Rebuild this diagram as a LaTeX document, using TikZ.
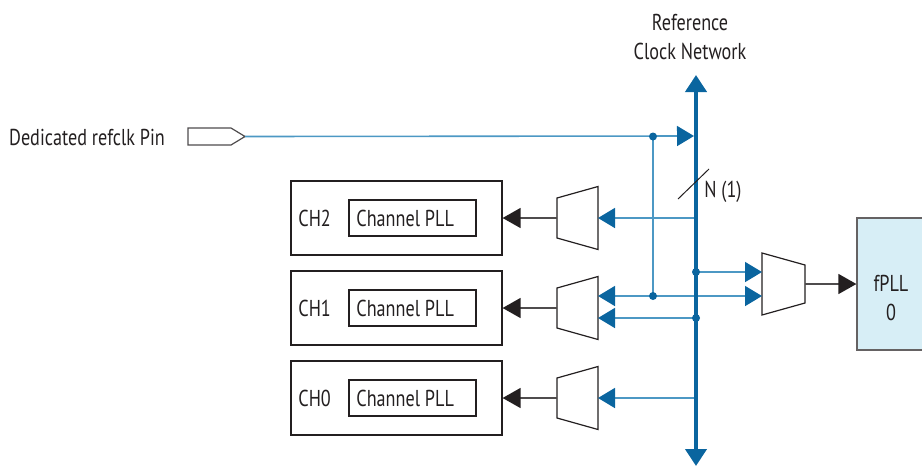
\documentclass[tikz,border=0pt]{standalone}
\usepackage{fontspec}
\setmainfont{PT Sans}[FakeStretch=0.79]
\usetikzlibrary{arrows.meta}
\definecolor{busblue}{HTML}{0A659F}
\definecolor{sigblue}{HTML}{4C98C4}
\definecolor{pllfill}{HTML}{D7EEF6}
\definecolor{ink}{HTML}{231F20}

\begin{document}
\begin{tikzpicture}[x=0.5pt,y=-0.5pt,font=\fontsize{11.5}{14.5}\selectfont,text=ink,
	chbox/.style={draw=ink,line width=0.6pt,minimum width=105.5pt,minimum height=37pt,inner sep=0pt},
	pllbox/.style={draw=ink,line width=0.6pt,minimum width=63.5pt,minimum height=18pt,inner sep=0pt},
	muxshape/.style={draw=ink,line width=0.6pt,fill=white},
	sig/.style={draw=sigblue,line width=0.8pt},
	sigarr/.style={sig,-{Triangle[length=8.5pt,width=10pt,color=busblue]}},
	blkarr/.style={draw=ink!80,line width=0.7pt,-{Triangle[length=9pt,width=10pt,color=ink]}},
	bus/.style={draw=busblue,line width=2pt,{Triangle[length=8.5pt,width=10.5pt]}-{Triangle[length=8.5pt,width=10.5pt]}}]
	\useasboundingbox (0,0) rectangle (922,467);
	% title and clock network
	\node[align=center] (title) at (690,37) {Reference\\Clock Network};
	\coordinate (bustop) at (696,75);
	\coordinate (busbot) at (696,466);
	\coordinate (bpin) at (694,136);
	\coordinate (b2) at (696,218);
	\coordinate (bf1) at (696,272);
	\coordinate (b1b) at (696,318);
	\coordinate (b0) at (696,398);
	% refclk pin
	\node[anchor=east] (pinlbl) at (172,137) {Dedicated refclk Pin};
	\draw[draw=ink!80,line width=0.6pt] (188,128) -- (231,128) -- (245,136.5) -- (231,145) -- (188,145) -- cycle;
	\coordinate (pintip) at (245,136.5);
	\coordinate (pj1) at (653,136.5);
	\coordinate (pj2) at (653,296);
	% channels with muxes
	\foreach \n/\y in {2/218,1/308,0/398} {
		\node[chbox] (ch\n) at (396.5,\y) {};
		\node[anchor=west,inner sep=0pt] (chl\n) at (298,\y) {CH\n};
		\node[pllbox] (pll\n) at (412.5,\y) {};
		\node[anchor=west,inner sep=0pt] (plltxt\n) at (356,\y) {Channel PLL};
		\draw[muxshape] (557,{\y-20}) -- (598,{\y-31.5}) -- (598,{\y+31.5}) -- (557,{\y+20}) -- cycle;
		\coordinate (mxo\n) at (557,\y);
		\draw[blkarr] (mxo\n) -- (ch\n.east);
	}
	\coordinate (mxi2) at (598,218);
	\coordinate (mxi1a) at (598,296);
	\coordinate (mxi1b) at (598,318);
	\coordinate (mxi0) at (598,398);
	% fPLL with its mux
	\draw[muxshape] (762,253) -- (805,265) -- (805,303) -- (762,315) -- cycle;
	\coordinate (fmi1) at (762,272);
	\coordinate (fmi2) at (762,296);
	\coordinate (fmo) at (805,284);
	\node[draw=ink!70,line width=0.6pt,fill=pllfill,minimum width=34pt,minimum height=66pt] (fpll) at (891,284) {};
	\node[align=center] (fplltxt) at (891,298) {fPLL\\0};
	\draw[blkarr] (fmo) -- (fpll.west);
	% signals
	\draw[sigarr] (pintip) -- (bpin);
	\draw[sig] (pj1) -- (pj2);
	\draw[sigarr] (pj2) -- (mxi1a);
	\draw[sigarr] (pj2) -- (fmi2);
	\draw[sigarr] (b2) -- (mxi2);
	\draw[sigarr] (b1b) -- (mxi1b);
	\draw[sigarr] (b0) -- (mxi0);
	\draw[sigarr] (bf1) -- (fmi1);
	\draw[bus] (busbot) -- (bustop);
	\foreach \p in {pj1,pj2,bf1,b1b} \fill[busblue] (\p) circle (2pt);
	% bus width
	\draw[ink,line width=0.5pt] (678,199) -- (709,169);
	\node[anchor=west,inner sep=0pt] (nlbl) at (704,192) {N (1)};
\end{tikzpicture}
\end{document}
